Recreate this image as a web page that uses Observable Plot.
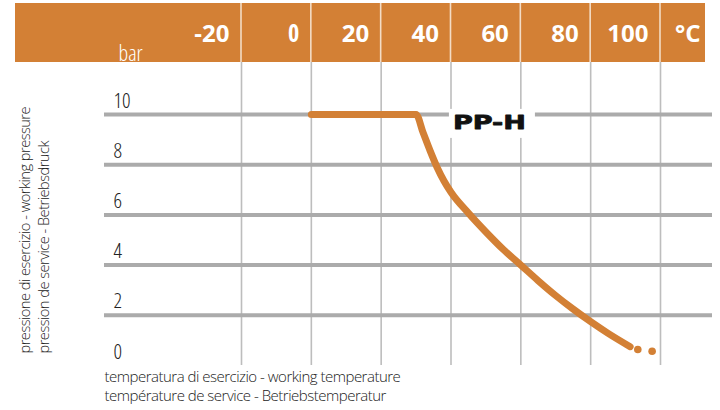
<!DOCTYPE html>
<html><head><meta charset="utf-8">
<script src="https://cdn.jsdelivr.net/npm/d3@7"></script>
<script src="https://cdn.jsdelivr.net/npm/@observablehq/plot@0.6"></script>
<style>body{margin:0;background:#fff} #chart{width:720px;height:410px}</style>
</head><body><div id="chart"></div>
<script>
// ---- data ----
const seriesName = "PP-H";
const temperature = [0, 30, 32, 34, 36, 38, 40, 45, 50, 55, 60, 65, 70, 75, 80, 85, 91.3];
const pressure    = [10, 10, 9.28, 8.56, 7.9, 7.35, 6.9, 6.07, 5.32, 4.62, 4.0, 3.375, 2.785, 2.245, 1.745, 1.28, 0.75];
const tailTemperature = [93.5, 97.6];
const tailPressure    = [0.64, 0.57];
const xTicks = [-20, 0, 20, 40, 60, 80, 100];
const xTickLabels = ["-20", "0", "20", "40", "60", "80", "100"];
const yTicks = [0, 2, 4, 6, 8, 10];
const yGrid = [2, 4, 6, 8, 10];
const xUnit = "°C";
const yUnit = "bar";
const xTitle = "temperatura di esercizio - working temperature\ntempérature de service - Betriebstemperatur";
const yTitle = "pressione di esercizio - working pressure\npression de service - Betriebsdruck";

// ---- style ----
const orange = "#D38035";
const LIGHT = '"Open Sans","DejaVu Sans Condensed",sans-serif';
const BOLD = '"Open Sans","Noto Sans",sans-serif';

const curve = temperature.map((t, i) => ({t, p: pressure[i]}));
const tail = tailTemperature.map((t, i) => ({t, p: tailPressure[i]}));

const plot = Plot.plot({
  width: 720, height: 410,
  marginLeft: 104, marginRight: 8, marginTop: 62, marginBottom: 45,
  x: {domain: [-20, 100], range: [241, 660], axis: null},
  y: {domain: [0, 10], range: [365, 114], axis: null},
  style: {fontFamily: LIGHT, background: "white"},
  marks: [
    Plot.ruleX(xTicks, {stroke: "#BDBDBD", strokeWidth: 1.6}),
    Plot.ruleY(yGrid, {stroke: "#ABABAB", strokeWidth: 4}),
    Plot.line(curve, {x: "t", y: "p", stroke: orange, strokeWidth: 7, curve: "monotone-x",
      strokeLinecap: "round", strokeLinejoin: "round"}),
    Plot.dot(tail, {x: "t", y: "p", r: 3.8, fill: orange}),
    // header tick labels
    Plot.text(xTickLabels, {x: (d, i) => xTicks[i], frameAnchor: "top", dy: -38, dx: -12,
      textAnchor: "end", fill: "white", fontWeight: "bold", fontSize: 24, fontFamily: BOLD}),
    Plot.text([xUnit], {frameAnchor: "top-right", dx: -12, dy: -38, textAnchor: "end",
      fill: "white", fontWeight: "bold", fontSize: 24, fontFamily: BOLD}),
    Plot.text([yUnit], {frameAnchor: "top-left", dx: 14, dy: -2, textAnchor: "start", lineAnchor: "bottom",
      fill: "white", fontSize: 22, fontWeight: 300}),
    // y tick labels
    Plot.text(yTicks, {y: d => d, text: d => String(d), frameAnchor: "left", dx: 9, dy: -7,
      textAnchor: "start", lineAnchor: "bottom", fill: "#222", fontSize: 21, fontWeight: 300}),
    // axis titles
    Plot.text([xTitle], {frameAnchor: "bottom-left", dy: 3, dx: 0, textAnchor: "start", lineAnchor: "top",
      lineHeight: 1.27, fill: "#222", fontSize: 15, fontWeight: 300}),
    Plot.text([yTitle], {frameAnchor: "bottom-left", rotate: -90, dx: -89, dy: -12, textAnchor: "start",
      lineAnchor: "top", lineHeight: 1.35, fill: "#222", fontSize: 14.6, fontWeight: 300}),
    // series label
    Plot.text([seriesName], {x: 51, y: 10, dy: 8, fontFamily: '"DejaVu Sans",sans-serif', fontWeight: "bold",
      fontSize: 20, fill: "#111", stroke: "#111", strokeWidth: 0.8})
  ]
});

document.getElementById("chart").append(plot);

const svg = d3.select(plot);
// condensed lettering for the pressure tick numbers and the unit
const condensed = new Set([...yTicks.map(String), yUnit]);
svg.selectAll("text").filter(function() { return condensed.has(this.textContent); })
  .style("font-stretch", "75%");
// tighter tracking for the two axis titles
const titles = new Set([xTitle.replace(/\n/g, ""), yTitle.replace(/\n/g, "")]);
svg.selectAll("text").filter(function() { return titles.has(this.textContent); })
  .style("letter-spacing", "-0.5px");

// header band behind everything, separators placed through the x scale
const xs = plot.scale("x");
const head = svg.insert("g", ":first-child");
head.append("rect").attr("x", 15).attr("y", 3).attr("width", 690).attr("height", 59).attr("fill", orange);
head.selectAll("line").data(xTicks).join("line")
  .attr("x1", d => xs.apply(d)).attr("x2", d => xs.apply(d))
  .attr("y1", 3).attr("y2", 62).attr("stroke", "#F3DCC6").attr("stroke-width", 1.6);

// white box behind the series label, stretched wide lettering
svg.selectAll("text").filter(function() { return this.textContent === seriesName; }).each(function() {
  this.setAttribute("textLength", 73);
  this.setAttribute("lengthAdjust", "spacingAndGlyphs");
  const bb = this.getBBox();
  const r = document.createElementNS("http://www.w3.org/2000/svg", "rect");
  r.setAttribute("x", bb.x - 4); r.setAttribute("y", bb.y - 1);
  r.setAttribute("width", bb.width + 13); r.setAttribute("height", bb.height + 5);
  r.setAttribute("fill", "white"); r.setAttribute("stroke", "none");
  const tf = this.getAttribute("transform");
  if (tf) r.setAttribute("transform", tf);
  this.parentNode.insertBefore(r, this);
});
</script>
</body></html>
